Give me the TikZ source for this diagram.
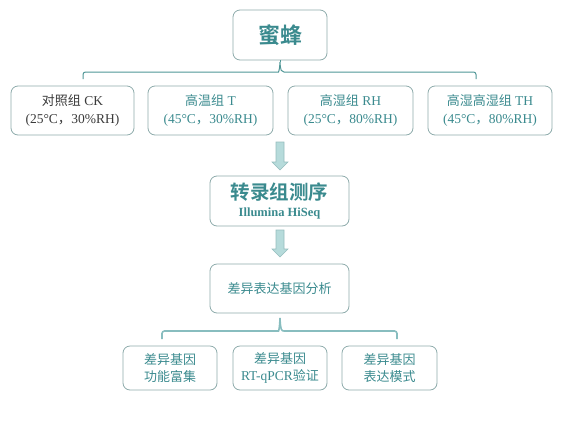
\documentclass[tikz,border=0pt]{standalone}
\usepackage{fontspec}
\usetikzlibrary{calc}
\setmainfont{Liberation Serif}
\newfontfamily\cjk{Noto Sans CJK SC}
\newfontfamily\cjkb{Noto Sans CJK SC Bold}
\definecolor{txt}{HTML}{3A8A8E}
\definecolor{dark}{HTML}{3A3A3A}
\definecolor{boxc}{HTML}{8DABAB}
\definecolor{brtop}{HTML}{4F9696}
\definecolor{brlow}{HTML}{88BDBF}
\definecolor{arrf}{HTML}{B6DBDB}
\definecolor{arrd}{HTML}{96BDBE}
\begin{document}
\begin{tikzpicture}[x=1pt,y=-1pt,
  bx/.style={draw=boxc, line width=0.8pt, rounded corners=7pt, align=center,
    inner sep=0pt, text=txt, font=\fontsize{13.5}{18}\selectfont},
  cj/.style={font=\fontsize{13}{17.5}\selectfont\cjk},
  br/.style={line width=1pt, draw=brtop},
  blk/.style={fill=arrf, draw=arrd, line width=0.6pt}]
\useasboundingbox (0,0) rectangle (575,429);
% top
\node[bx, minimum width=94pt, minimum height=50pt, font=\fontsize{22}{26}\selectfont\cjkb] (bee) at (280,35) {蜜蜂};
\node[bx, minimum width=123pt, minimum height=49pt, text=dark] (g1) at (72.5,110.5) {{\fontsize{13}{18}\cjk 对照组} CK\\(25°C{\cjk ，}30\%RH)};
\node[bx, minimum width=125pt, minimum height=49pt] (g2) at (210.5,110.5) {{\fontsize{13}{18}\cjk 高温组} T\\(45°C{\cjk ，}30\%RH)};
\node[bx, minimum width=125pt, minimum height=49pt] (g3) at (350.5,110.5) {{\fontsize{13}{18}\cjk 高湿组} RH\\(25°C{\cjk ，}80\%RH)};
\node[bx, minimum width=124pt, minimum height=49pt] (g4) at (490,110.5) {{\fontsize{13}{18}\cjk 高湿高湿组} TH\\(45°C{\cjk ，}80\%RH)};
% sequencing
\node[bx, minimum width=139pt, minimum height=50pt] (seq) at (279.5,201) {{\fontsize{19.5}{22}\selectfont\cjkb 转录组测序}\\[-1pt]{\fontsize{12.5}{14}\selectfont\bfseries Illumina HiSeq}};
\node[bx, cj, minimum width=139pt, minimum height=49pt] (deg) at (279.5,288.5) {差异表达基因分析};
% bottom
\node[bx, cj, minimum width=94pt, minimum height=44pt] (b1) at (170,368) {差异基因\\功能富集};
\node[bx, minimum width=94pt, minimum height=44pt, font=\fontsize{13.5}{17.5}\selectfont] (b2) at (280,368) {{\fontsize{13}{17.5}\cjk 差异基因}\\RT-qPCR{\fontsize{13}{17.5}\cjk 验证}};
\node[bx, cj, minimum width=95pt, minimum height=44pt] (b3) at (389.5,368) {差异基因\\表达模式};
% top bracket
\coordinate (tl) at (83,79);
\coordinate (tr) at (476,79);
\coordinate (tm) at (bee.south);
\draw[br] (tl) [rounded corners=2.5pt] |- (276,72) [sharp corners]
  .. controls (278.5,72) and (279.5,71) .. (tm |- 0,62)
  .. controls (280.5,71) and (281.5,72) .. (284,72) [rounded corners=2.5pt] -| (tr);
\draw[br] (tm) -- (tm |- 0,62);
% lower bracket
\coordinate (ll) at (162,339);
\coordinate (lr) at (397,339);
\coordinate (lm) at (280,318);
\draw[br, draw=brlow, line width=1.6pt] (ll) [rounded corners=2.5pt] |- (276,331) [sharp corners]
  .. controls (278.5,331) and (279.5,330) .. (lm)
  .. controls (280.5,330) and (281.5,331) .. (284,331) [rounded corners=2.5pt] -| (lr);
% block arrows
\coordinate (a1s) at (280,142);
\coordinate (a1e) at (280,170);
\coordinate (a2s) at (280,230);
\coordinate (a2e) at (280,257);
\foreach \s/\e in {a1s/a1e, a2s/a2e}{
  \path[blk] let \p1=(\s), \p2=(\e) in
    (\x1-4pt,\y1) -- (\x1+4pt,\y1) -- (\x1+4pt,\y2+8pt) -- (\x1+8pt,\y2+8pt)
    -- (\x2,\y2) -- (\x1-8pt,\y2+8pt) -- (\x1-4pt,\y2+8pt) -- cycle;
}
\end{tikzpicture}
\end{document}
